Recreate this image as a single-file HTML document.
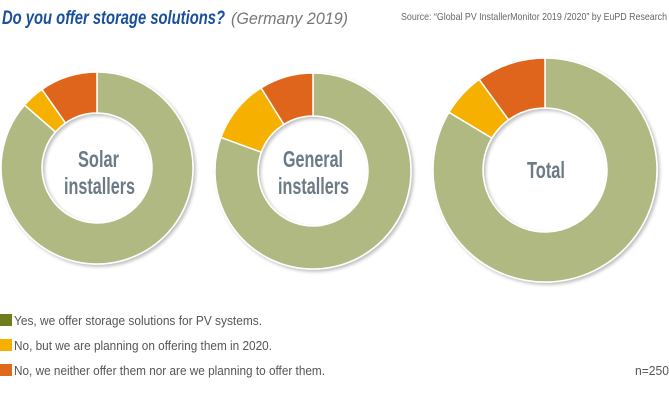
<!DOCTYPE html><html><head><style>
body{margin:0;background:#fff;width:669px;height:400px;overflow:hidden;font-family:"Liberation Sans",sans-serif}
</style></head><body>
<svg width="669" height="400" xmlns="http://www.w3.org/2000/svg" style="position:absolute;left:0;top:0" font-family="Liberation Sans, sans-serif">
<defs><filter id="s" x="-10%" y="-10%" width="130%" height="130%"><feDropShadow dx="2" dy="2" stdDeviation="1.5" flood-color="#000" flood-opacity="0.25"/></filter></defs>
<text x="2" y="24" font-size="19" font-weight="bold" font-style="italic" fill="#1a4f9c" textLength="223" lengthAdjust="spacingAndGlyphs">Do you offer storage solutions?</text>
<text x="231" y="24" font-size="17" font-style="italic" fill="#777" textLength="117" lengthAdjust="spacingAndGlyphs">(Germany 2019)</text>
<text x="401" y="20" font-size="10.5" fill="#666" textLength="266" lengthAdjust="spacingAndGlyphs">Source: “Global PV InstallerMonitor 2019 /2020” by EuPD Research</text>
<g id="charts" stroke="#fff" stroke-width="1.5" filter="url(#s)"></g>
<g font-weight="bold" fill="#6b7a86" font-size="23">
<text x="78" y="167" textLength="41" lengthAdjust="spacingAndGlyphs">Solar</text>
<text x="64" y="194" textLength="71" lengthAdjust="spacingAndGlyphs">installers</text>
<text x="283" y="167" textLength="60" lengthAdjust="spacingAndGlyphs">General</text>
<text x="278" y="194" textLength="71" lengthAdjust="spacingAndGlyphs">installers</text>
<text x="527" y="178" textLength="38" lengthAdjust="spacingAndGlyphs">Total</text>
</g>
<g font-size="13" fill="#555">
<rect x="0" y="314" width="12" height="12" fill="#6e7d1e"/><text x="14" y="325" textLength="248" lengthAdjust="spacingAndGlyphs">Yes, we offer storage solutions for PV systems.</text>
<rect x="0" y="339" width="12" height="12" fill="#f5b000"/><text x="14" y="350" textLength="258" lengthAdjust="spacingAndGlyphs">No, but we are planning on offering them in 2020.</text>
<rect x="0" y="364" width="12" height="12" fill="#e06a1b"/><text x="14" y="375" textLength="311" lengthAdjust="spacingAndGlyphs">No, we neither offer them nor are we planning to offer them.</text>
<text x="635" y="375" textLength="34" lengthAdjust="spacingAndGlyphs">n=250</text>
</g>
</svg>
<script>
function arc(cx,cy,R,r,a0,a1,c){a0=(a0-90)*Math.PI/180;a1=(a1-90)*Math.PI/180;
const p=(rr,a)=>(cx+rr*Math.cos(a)).toFixed(2)+","+(cy+rr*Math.sin(a)).toFixed(2);
const l=(a1-a0)>Math.PI?1:0;
return `<path d="M${p(R,a0)} A${R},${R} 0 ${l} 1 ${p(R,a1)} L${p(r,a1)} A${r},${r} 0 ${l} 0 ${p(r,a0)} Z" fill="${c}"/>`;}
const G="#b1b982",Y="#f5b000",O="#e0651a";
function donut(cx,cy,R,r,o,y){return arc(cx,cy,R,r,0,360-o-y,G)+arc(cx,cy,R,r,360-o-y,360-o,Y)+arc(cx,cy,R,r,360-o,359.99,O);}
document.getElementById("charts").innerHTML=donut(97,168,96,55,35,14)+donut(313,171,98,55,32,38)+donut(545,170,112,62,36,23);
</script>
</body></html>
